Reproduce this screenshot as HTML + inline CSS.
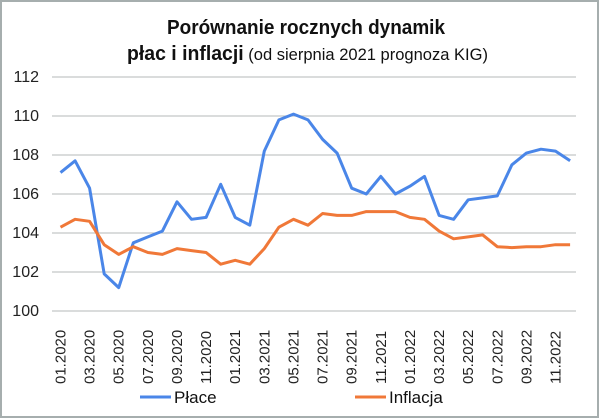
<!DOCTYPE html>
<html><head><meta charset="utf-8"><style>
html,body{margin:0;padding:0;background:#fff}
svg{display:block;font-family:"Liberation Sans",sans-serif}
</style></head><body>
<svg id="s" width="600" height="419" viewBox="0 0 600 419" xmlns="http://www.w3.org/2000/svg">
<rect x="1" y="1" width="597" height="416" fill="#fff" stroke="#a6aeae" stroke-width="2"/>
<text x="306" y="34" text-anchor="middle" font-size="20" font-weight="bold" textLength="278" lengthAdjust="spacingAndGlyphs" fill="#111">Porównanie rocznych dynamik</text>
<text x="127" y="60" font-size="20" textLength="361" lengthAdjust="spacingAndGlyphs" fill="#111"><tspan font-weight="bold">płac i inflacji</tspan><tspan font-size="17"> (od sierpnia 2021 prognoza KIG)</tspan></text>
<g id="grid" stroke="#c4c8c8" stroke-width="1.3"></g>
<g id="yl" font-size="16" fill="#222" text-anchor="end"></g>
<g id="xl" font-size="15" fill="#222"></g>
<polyline id="p1" fill="none" stroke="#4a86e8" stroke-width="3" stroke-linejoin="round"/>
<polyline id="p2" fill="none" stroke="#f07838" stroke-width="3" stroke-linejoin="round"/>
<line x1="140" y1="397" x2="171" y2="397" stroke="#4a86e8" stroke-width="3"/>
<text x="174" y="403" font-size="17" fill="#111">Płace</text>
<line x1="355" y1="397" x2="386" y2="397" stroke="#f07838" stroke-width="3"/>
<text x="389" y="403" font-size="17" fill="#111">Inflacja</text>
</svg>
<script>
var ns="http://www.w3.org/2000/svg";
function Y(v){return 77+(112-v)*19.5}
function X(i){return 60.5+14.56*i}
var g=document.getElementById('grid'),yl=document.getElementById('yl'),xl=document.getElementById('xl');
for(var v=100;v<=112;v+=2){var l=document.createElementNS(ns,'line');l.setAttribute('x1',52);l.setAttribute('x2',576);l.setAttribute('y1',Y(v));l.setAttribute('y2',Y(v));g.appendChild(l);
var t=document.createElementNS(ns,'text');t.setAttribute('x',39);t.setAttribute('y',Y(v)+5);t.textContent=v;yl.appendChild(t);}
var labs=['01.2020','03.2020','05.2020','07.2020','09.2020','11.2020','01.2021','03.2021','05.2021','07.2021','09.2021','11.2021','01.2022','03.2022','05.2022','07.2022','09.2022','11.2022'];
labs.forEach(function(s,k){var x=X(2*k)+5;var t=document.createElementNS(ns,'text');t.setAttribute('transform','translate('+x+',384) rotate(-90)');t.textContent=s;xl.appendChild(t);});
var a=[107.1,107.7,106.3,101.9,101.2,103.5,103.8,104.1,105.6,104.7,104.8,106.5,104.8,104.4,108.2,109.8,110.1,109.8,108.8,108.1,106.3,106.0,106.9,106.0,106.4,106.9,104.9,104.7,105.7,105.8,105.9,107.5,108.1,108.3,108.2,107.7];
var b=[104.3,104.7,104.6,103.4,102.9,103.3,103.0,102.9,103.2,103.1,103.0,102.4,102.6,102.4,103.2,104.3,104.7,104.4,105.0,104.9,104.9,105.1,105.1,105.1,104.8,104.7,104.1,103.7,103.8,103.9,103.3,103.25,103.3,103.3,103.4,103.4];
function pts(d){return d.map(function(v,i){return X(i).toFixed(1)+','+Y(v).toFixed(1)}).join(' ')}
document.getElementById('p1').setAttribute('points',pts(a));
document.getElementById('p2').setAttribute('points',pts(b));
</script>
</body></html>
